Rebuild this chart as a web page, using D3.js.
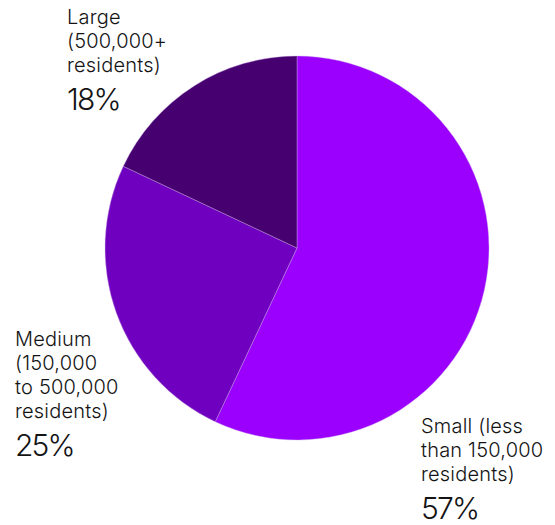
<!DOCTYPE html>
<html>
<head>
<meta charset="utf-8">
<script src="https://cdn.jsdelivr.net/npm/d3@7"></script>
<style>
  html, body { margin: 0; padding: 0; background: #fff; }
  svg { display: block; font-family: Inter, "Noto Sans", sans-serif; }
</style>
</head>
<body>
<svg id="chart" width="555" height="525"></svg>
<script>
// City size groups and their share of the total
const categories = ["Small", "Medium", "Large"];
const shares = [57, 25, 18];
const labelLines = [
  ["Small (less", "than 150,000", "residents)"],
  ["Medium", "(150,000", "to 500,000", "residents)"],
  ["Large", "(500,000+", "residents)"]
];
const colors = ["#9b00ff", "#7000bf", "#460070"];

const svg = d3.select("#chart");
const cx = 297, cy = 248, radius = 192;

const pie = d3.pie().sort(null).value(d => d.value);
const arc = d3.arc().innerRadius(0).outerRadius(radius);
const data = categories.map((c, i) => ({ name: c, value: shares[i] }));
const color = d3.scaleOrdinal().domain(categories).range(colors);

const g = svg.append("g").attr("transform", `translate(${cx},${cy})`);
g.selectAll("path")
  .data(pie(data))
  .join("path")
  .attr("d", arc)
  .attr("fill", d => color(d.data.name))
  .attr("stroke", "#c9a6e8")
  .attr("stroke-width", 0.4);

// Label blocks: name lines and a larger percentage beneath
const labelPos = [
  { x: 421, y: 433 },
  { x: 15, y: 346 },
  { x: 67, y: 24 }
];
const lineH = 24;
data.forEach((d, i) => {
  const p = labelPos[i];
  const t = svg.append("text")
    .attr("x", p.x).attr("y", p.y)
    .attr("fill", "#141414")
    .style("font-size", "20px")
    .style("font-weight", 350)
    .style("letter-spacing", "0.2px");
  labelLines[i].forEach((line, j) => {
    t.append("tspan").attr("x", p.x).attr("y", p.y + j * lineH).text(line);
  });
  svg.append("text")
    .attr("x", p.x)
    .attr("y", p.y + (labelLines[i].length - 1) * lineH + 38)
    .attr("fill", "#141414")
    .style("font-size", "30px")
    .style("font-weight", 350)
    .style("letter-spacing", "-1.8px")
    .text(d.value + "%");
});
</script>
</body>
</html>
